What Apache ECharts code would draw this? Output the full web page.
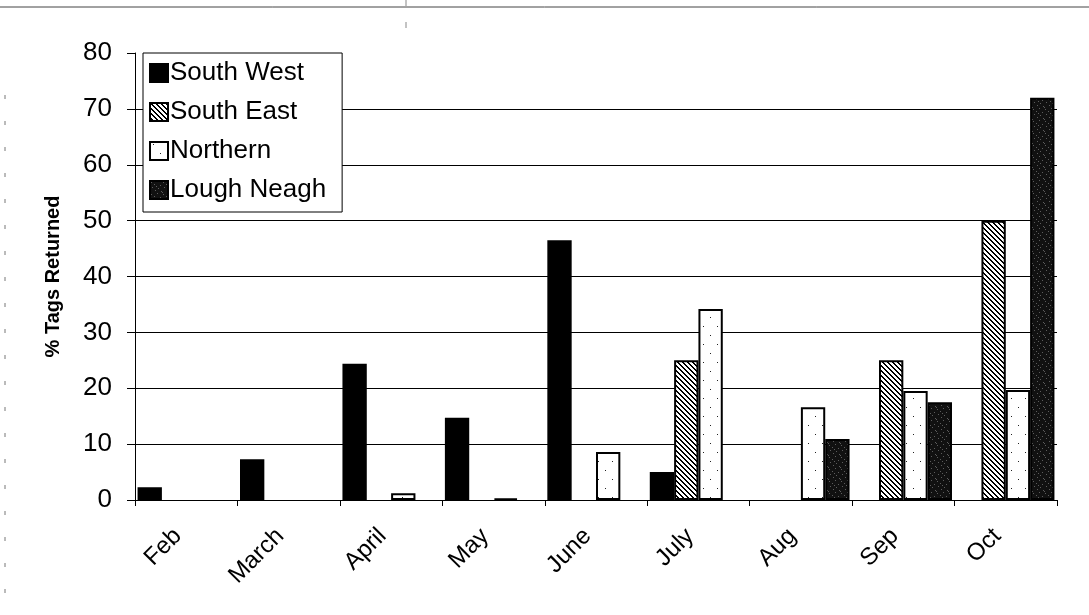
<!DOCTYPE html>
<html>
<head>
<meta charset="utf-8">
<style>
  html, body { margin: 0; padding: 0; background: #fff; }
  #chart { width: 1089px; height: 615px; }
</style>
<script src="https://cdn.jsdelivr.net/npm/echarts@6/dist/echarts.min.js"></script>
</head>
<body>
<div id="chart"></div>
<script>
// Monthly percentage of tags returned, by region
const months = ['Feb', 'March', 'April', 'May', 'June', 'July', 'Aug', 'Sep', 'Oct'];
const southWest  = [2.3, 7.3, 24.4, 14.7, 46.5, 5.0, null, null, null];
const southEast  = [null, null, null, null, null, 25, null, 25, 50];
const northern   = [null, null, 1.2, 0.3, 8.6, 34.2, 16.6, 19.5, 19.7];
const loughNeagh = [null, null, null, null, null, null, 10.9, 17.5, 72];
const yTicks = [0, 10, 20, 30, 40, 50, 60, 70, 80];

// Fill textures for the bars
function makeTile(w, h, draw) {
  const c = document.createElement('canvas');
  c.width = w; c.height = h;
  const g = c.getContext('2d');
  draw(g, w, h);
  return { image: c, repeat: 'repeat' };
}
const hatchFill = makeTile(5, 5, (g, w, h) => {
  g.fillStyle = '#fff'; g.fillRect(0, 0, w, h);
  g.fillStyle = '#000';
  for (let i = 0; i < w; i++) {
    g.fillRect(i, i, 1, 1);
    g.fillRect((i + 1) % w, i, 1, 1);
  }
});
const dotFill = makeTile(14, 18, (g, w, h) => {
  g.fillStyle = '#fff'; g.fillRect(0, 0, w, h);
  g.fillStyle = '#222';
  g.fillRect(3, 2, 1, 1);
  g.fillRect(10, 11, 1, 1);
});
const speckleFill = makeTile(12, 12, (g, w, h) => {
  g.fillStyle = '#111'; g.fillRect(0, 0, w, h);
  g.fillStyle = '#5c5c5c';
  const pts = [[1, 1], [7, 0], [4, 3], [10, 4], [2, 6], [8, 7], [5, 9], [11, 10], [0, 11], [6, 5]];
  pts.forEach(p => g.fillRect(p[0], p[1], 1, 1));
});

const stroke = { borderColor: '#000', borderWidth: 2 };
function barSeries(name, data, fill) {
  return {
    type: 'bar',
    name: name,
    data: data,
    barGap: '0%',
    barCategoryGap: '5%',
    itemStyle: Object.assign({ color: fill }, stroke)
  };
}

const chart = echarts.init(document.getElementById('chart'), null, { renderer: 'canvas' });
chart.setOption({
  animation: false,
  backgroundColor: '#fff',
  textStyle: { fontFamily: 'Liberation Sans, Arial, sans-serif', color: '#000' },
  grid: { left: 135, right: 32, top: 53, bottom: 115, containLabel: false },
  legend: {
    orient: 'vertical',
    left: 143,
    top: 53,
    itemWidth: 18,
    itemHeight: 18,
    itemGap: 13,
    padding: [7, 16, 9, 6],
    backgroundColor: '#fff',
    borderColor: '#000',
    borderWidth: 1,
    icon: 'rect',
    textStyle: { fontSize: 26, color: '#000', padding: [0, 0, 0, -3] },
    data: ['South West', 'South East', 'Northern', 'Lough Neagh']
  },
  xAxis: {
    type: 'category',
    data: months,
    axisLine: { lineStyle: { color: '#000', width: 1 } },
    axisTick: { show: true, length: 6, lineStyle: { color: '#000' } },
    axisLabel: { rotate: 45, fontSize: 24, color: '#000', margin: 24, padding: [0, 12, 0, 0] },
    splitLine: { show: false }
  },
  yAxis: {
    type: 'value',
    min: yTicks[0],
    max: yTicks[yTicks.length - 1],
    interval: 10,
    name: '% Tags Returned',
    nameLocation: 'middle',
    nameGap: 72,
    nameTextStyle: { fontSize: 20, fontWeight: 'bold', color: '#000' },
    axisLine: { show: true, lineStyle: { color: '#000', width: 1 } },
    axisTick: { show: true, length: 8, lineStyle: { color: '#000' } },
    axisLabel: { fontSize: 26, color: '#000', margin: 23 },
    splitLine: { show: true, showMaxLine: false, lineStyle: { color: '#000', width: 1 } }
  },
  series: [
    barSeries('South West', southWest, '#000'),
    barSeries('South East', southEast, hatchFill),
    barSeries('Northern', northern, dotFill),
    barSeries('Lough Neagh', loughNeagh, speckleFill)
  ],
  graphic: [
    // page rule across the top
    { type: 'line', shape: { x1: 0, y1: 7, x2: 1089, y2: 7 }, style: { stroke: '#444', lineWidth: 1 } },
    { type: 'line', shape: { x1: 406, y1: 0, x2: 406, y2: 30 }, style: { stroke: '#888', lineWidth: 1, lineDash: [6, 16] } },
    // faint dashed margin on the left
    { type: 'line', shape: { x1: 5, y1: 95, x2: 5, y2: 600 }, style: { stroke: '#777', lineWidth: 1, lineDash: [4, 22] } }
  ]
});
</script>
</body>
</html>
